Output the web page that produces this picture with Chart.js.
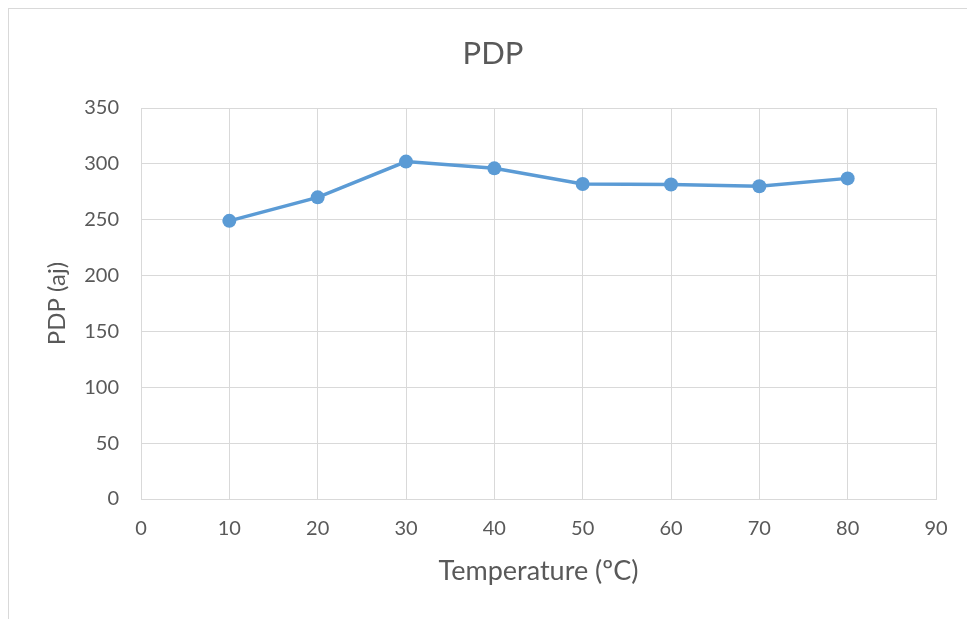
<!DOCTYPE html>
<html>
<head>
<meta charset="utf-8">
<script src="https://cdn.jsdelivr.net/npm/chart.js@4"></script>
<style>
  html, body { margin: 0; padding: 0; background: #ffffff; }
  #wrap { position: relative; width: 967px; height: 619px; overflow: hidden; }
  #frame { position: absolute; left: 8px; top: 8px; width: 1000px; height: 700px; border: 1px solid #d9d9d9; box-sizing: border-box; }
  canvas { position: absolute; left: 0; top: 0; }
</style>
</head>
<body>
<div id="wrap">
  <div id="frame"></div>
  <canvas id="chart" width="967" height="619"></canvas>
</div>
<script>
// Temperature sweep and the measured power-delay product at each step
const temperatures = [10, 20, 30, 40, 50, 60, 70, 80];
const pdpValues = [249, 270, 302, 296, 282, 281.5, 280, 287];
const xTicks = [0, 10, 20, 30, 40, 50, 60, 70, 80, 90];
const yTicks = [0, 50, 100, 150, 200, 250, 300, 350];

const textColor = '#595959';
const gridColor = '#d9d9d9';
const fontFamily = 'Lato, "Open Sans", sans-serif';

// Centre the chart title over the whole frame rather than the plot area
const titleCentering = {
  id: 'titleCentering',
  afterLayout(chart) {
    const t = chart.titleBlock;
    if (t) {
      t.left = 0;
      t.right = 986;
      t.width = 986;
    }
  }
};

new Chart(document.getElementById('chart'), {
  type: 'line',
  data: {
    datasets: [{
      label: 'PDP',
      data: temperatures.map((t, i) => ({ x: t, y: pdpValues[i] })),
      borderColor: '#5b9bd5',
      backgroundColor: '#5b9bd5',
      borderWidth: 3.5,
      pointRadius: 7,
      pointHoverRadius: 7,
      pointBorderWidth: 0,
      tension: 0,
      fill: false
    }]
  },
  options: {
    responsive: false,
    animation: false,
    layout: { padding: { left: 0, right: 31, top: 0, bottom: 0 } },
    plugins: {
      legend: { display: false },
      tooltip: { enabled: false },
      title: {
        display: true,
        text: 'PDP',
        color: textColor,
        font: { family: fontFamily, size: 31, weight: 'normal' },
        padding: { top: 35, bottom: 35.8 }
      }
    },
    scales: {
      x: {
        type: 'linear',
        min: xTicks[0],
        max: xTicks[xTicks.length - 1],
        afterBuildTicks: (scale) => { scale.ticks = xTicks.map(v => ({ value: v })); },
        afterFit: (scale) => { scale.height = 120; },
        grid: { color: gridColor, lineWidth: 1, drawTicks: false },
        border: { color: gridColor, width: 1 },
        ticks: {
          color: textColor,
          font: { family: fontFamily, size: 20 },
          padding: 18,
          maxRotation: 0
        },
        title: {
          display: true,
          text: 'Temperature (ºC)',
          color: textColor,
          font: { family: fontFamily, size: 27 },
          padding: { top: 0, bottom: 32 }
        }
      },
      y: {
        type: 'linear',
        min: yTicks[0],
        max: yTicks[yTicks.length - 1],
        afterBuildTicks: (scale) => { scale.ticks = yTicks.map(v => ({ value: v })); },
        afterFit: (scale) => { scale.width = 141; },
        grid: { color: gridColor, lineWidth: 1, drawTicks: false },
        border: { color: gridColor, width: 1 },
        ticks: {
          color: textColor,
          font: { family: fontFamily, size: 20 },
          padding: 22
        },
        title: {
          display: true,
          text: 'PDP (aj)',
          color: textColor,
          font: { family: fontFamily, size: 24 },
          padding: { top: 43, bottom: 0 }
        }
      }
    }
  },
  plugins: [titleCentering]
});
</script>
</body>
</html>
